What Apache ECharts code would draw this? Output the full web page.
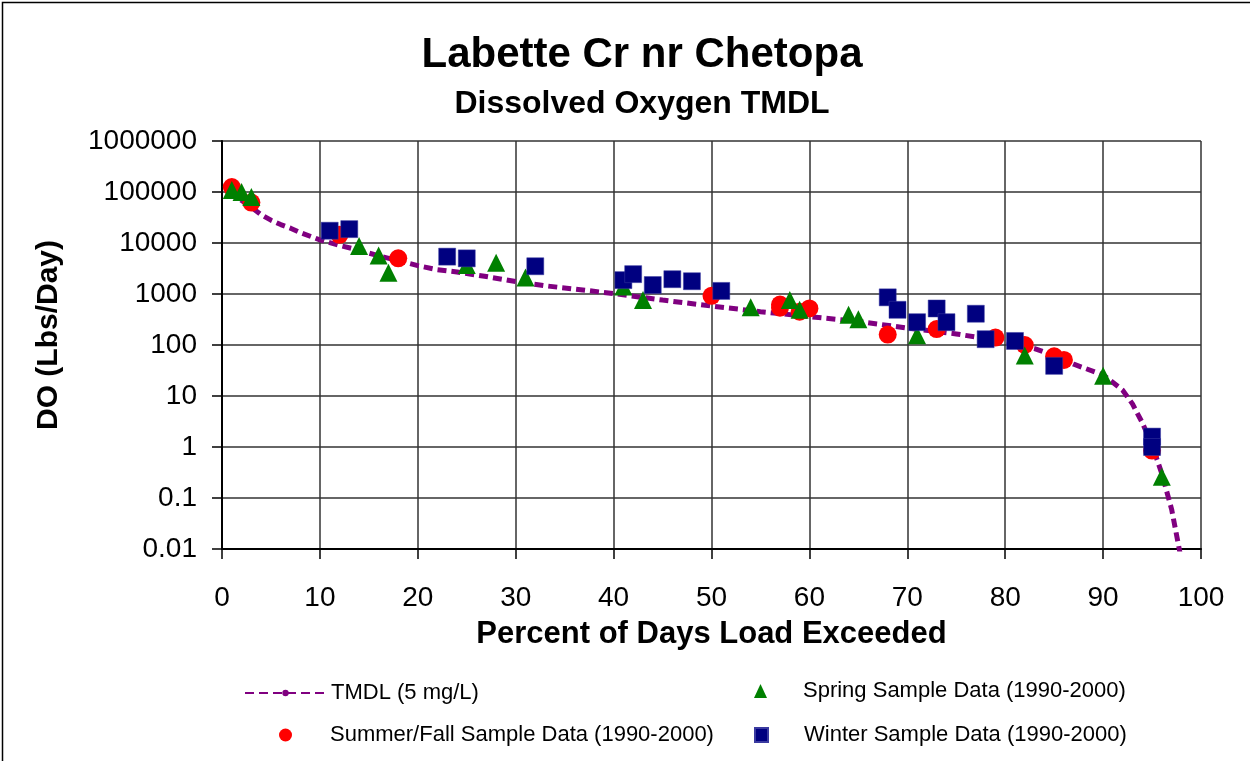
<!DOCTYPE html>
<html>
<head>
<meta charset="utf-8">
<script src="https://cdn.jsdelivr.net/npm/echarts@6/dist/echarts.min.js"></script>
<style>
html,body{margin:0;padding:0;background:#fff;}
#chart{width:1257px;height:761px;}
</style>
</head>
<body>
<div id="chart"></div>
<script>
// ---- Data ----
const titleText = 'Labette Cr nr Chetopa';
const subtitleText = 'Dissolved Oxygen TMDL';
const xAxisName = 'Percent of Days Load Exceeded';
const yAxisName = 'DO (Lbs/Day)';
const seriesNames = ['TMDL (5 mg/L)', 'Spring Sample Data (1990-2000)', 'Summer/Fall Sample Data (1990-2000)', 'Winter Sample Data (1990-2000)'];
const yTickLabels = ['0.01', '0.1', '1', '10', '100', '1000', '10000', '100000', '1000000'];
const xTickLabels = ['0', '10', '20', '30', '40', '50', '60', '70', '80', '90', '100'];

const tmdlCurve = [
  [1,110000],[2,68000],[3,50000],[4,36000],[5,28000],[6,23000],[7,19500],[8,16000],
  [10,11500],[12,9000],[14,7200],[16,5600],[18,4500],[20,3600],[22,3000],[24,2700],
  [27,2200],[30,1750],[33,1450],[36,1250],[40,1020],[45,760],[50,580],[55,450],
  [60,360],[65,290],[70,215],[75,165],[80,116],[83,85],[85,62],[87,42],[90,26],
  [92,13],[93,7],[94,3],[95,1.1],[96,0.3],[97,0.06],[98,0.006]
];
const springData = [
  [1,110000],[2,100000],[3,80000],[14,8700],[16,5700],[17,2600],[25,3700],[28,4100],
  [31,2100],[41,1400],[43,760],[54,550],[58,760],[59,490],[64,390],[65,320],[71,155],
  [82,62],[90,25],[96,0.26]
];
const summerData = [
  [1,125000],[3,62000],[12,14500],[18,5000],[50,920],[57,620],[57,540],[59,450],
  [60,520],[68,160],[73,205],[79,140],[82,100],[85,60],[86,51],[95,0.85]
];
const winterData = [
  [11,17400],[13,18700],[23,5400],[25,5000],[32,3500],[41,1870],[42,2450],[44,1500],
  [46,1950],[48,1780],[51,1150],[68,860],[69,490],[71,280],[73,520],[74,280],[77,410],
  [78,130],[81,120],[85,39],[95,1.6],[95,1.0]
];

// ---- Chart ----
const chart = echarts.init(document.getElementById('chart'));
const FONT = '"Liberation Sans", Arial, sans-serif';
const gridColor = '#333';

function legendBox(name, left, top, w, h, icon, textPad) {
  return {
    data: [icon ? {name: name, icon: icon} : name], left: left, top: top, orient: 'horizontal',
    itemWidth: w, itemHeight: h, itemGap: 0, padding: 0, selectedMode: false,
    textStyle: {fontFamily: FONT, fontSize: 22, color: '#000', padding: [0, 0, 0, textPad]}
  };
}

chart.setOption({
  backgroundColor: '#fff',
  animation: false,
  title: [
    {text: titleText, left: 637, textAlign: 'center', top: 29,
     textStyle: {fontFamily: FONT, fontSize: 42, fontWeight: 'bold', color: '#000'}},
    {text: subtitleText, left: 637, textAlign: 'center', top: 83,
     textStyle: {fontFamily: FONT, fontSize: 32, fontWeight: 'bold', color: '#000'}}
  ],
  grid: {left: 222, right: 56, top: 141, bottom: 212, containLabel: false, outerBoundsMode: 'none'},
  xAxis: {
    type: 'value', min: 0, max: 100, interval: 10,
    name: xAxisName, nameLocation: 'middle', nameGap: 70,
    nameTextStyle: {fontFamily: FONT, fontSize: 31, fontWeight: 'bold', color: '#000'},
    axisLine: {show: true, onZero: false, lineStyle: {color: '#000', width: 2}},
    axisTick: {show: true, inside: false, length: 10, lineStyle: {color: '#000', width: 1.5}},
    axisLabel: {margin: 35, fontFamily: FONT, fontSize: 28, color: '#000',
      formatter: v => xTickLabels[Math.round(v / 10)]},
    splitLine: {show: true, lineStyle: {color: gridColor, width: 1.5}}
  },
  yAxis: {
    type: 'log', logBase: 10, min: 0.01, max: 1000000,
    name: yAxisName, nameLocation: 'middle', nameGap: 158, nameRotate: 90,
    nameTextStyle: {fontFamily: FONT, fontSize: 30, fontWeight: 'bold', color: '#000', padding: [0, 0, 0, 20]},
    axisLine: {show: true, lineStyle: {color: '#000', width: 2}},
    axisTick: {show: true, inside: false, length: 10, lineStyle: {color: '#000', width: 1.5}},
    axisLabel: {margin: 25, fontFamily: FONT, fontSize: 28, color: '#000',
      formatter: v => yTickLabels[Math.round(Math.log10(v)) + 2]},
    splitLine: {show: true, lineStyle: {color: gridColor, width: 1.5}},
    minorTick: {show: false}
  },
  legend: [
    legendBox(seriesNames[0], 244, 682, 81, 8, null, 0),
    legendBox(seriesNames[1], 754, 680, 13, 14, 'triangle', 31),
    legendBox(seriesNames[2], 279, 724, 13, 15, 'circle', 33),
    legendBox(seriesNames[3], 754, 724, 13, 14, 'rect', 31)
  ],
  graphic: [
    {type: 'polyline', silent: true, shape: {points: [[2.5, 770], [2.5, 2.5], [1250, 2.5]]},
     style: {stroke: '#000', lineWidth: 1.5, fill: null}}
  ],
  series: [
    {name: seriesNames[0], type: 'line', data: tmdlCurve, showSymbol: false, symbol: 'none',
     smooth: false, clip: true, z: 2,
     lineStyle: {color: '#800080', width: 5, type: [9, 5]},
     itemStyle: {color: '#800080'}},
    {name: seriesNames[2], type: 'scatter', data: summerData, symbol: 'circle', symbolSize: 18, z: 3,
     itemStyle: {color: '#FF0000', opacity: 1}},
    {name: seriesNames[1], type: 'scatter', data: springData, symbol: 'triangle', symbolSize: 18, z: 4,
     itemStyle: {color: '#008000', opacity: 1}},
    {name: seriesNames[3], type: 'scatter', data: winterData, symbol: 'rect', symbolSize: 17, z: 5,
     itemStyle: {color: '#000080', opacity: 1, borderColor: '#3a3aa0', borderWidth: 0.5}}
  ]
});
</script>
</body>
</html>
